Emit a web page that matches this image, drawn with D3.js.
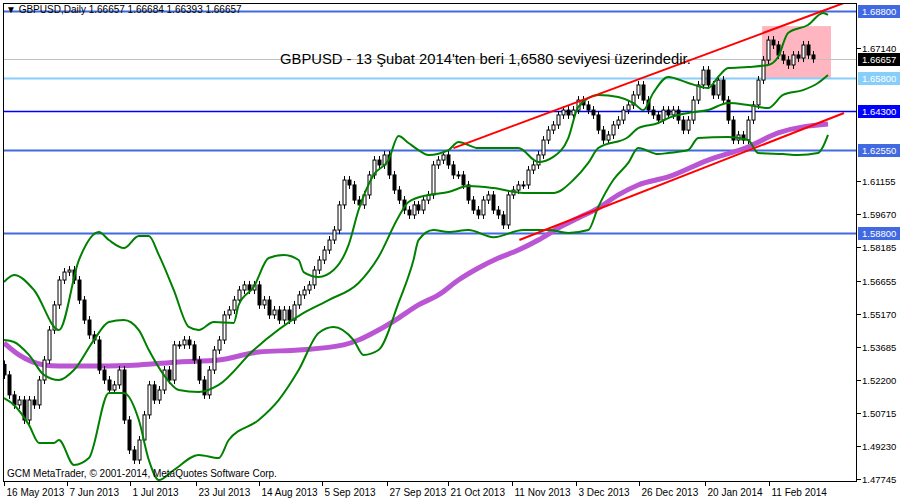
<!DOCTYPE html>
<html><head><meta charset="utf-8">
<script src="https://cdn.jsdelivr.net/npm/d3@7"></script>
<style>body{margin:0;background:#fff}text{font-family:"Liberation Sans",Arial,sans-serif}</style>
</head><body><svg id="c" width="900" height="500"></svg>
<script>
const closes=[1.5243,1.5153,1.5108,1.513,1.504,1.513,1.5108,1.522,1.531,1.5445,1.5558,1.567,1.5706,1.5715,1.567,1.558,1.549,1.5423,1.540,1.5265,1.522,1.5175,1.5198,1.5265,1.504,1.4905,1.486,1.495,1.5063,1.5198,1.513,1.5175,1.5265,1.522,1.5378,1.5378,1.540,1.5378,1.531,1.522,1.5153,1.5265,1.5355,1.540,1.5513,1.5535,1.558,1.5625,1.5648,1.5625,1.5648,1.5558,1.558,1.5513,1.5535,1.549,1.5535,1.549,1.5558,1.5603,1.5625,1.5648,1.5715,1.576,1.5805,1.585,1.5895,1.6008,1.612,1.6098,1.603,1.6008,1.6053,1.6143,1.621,1.6188,1.6233,1.6143,1.6075,1.603,1.5985,1.5963,1.6008,1.5985,1.603,1.6053,1.6188,1.621,1.6233,1.6188,1.6143,1.6143,1.6098,1.603,1.5985,1.5963,1.603,1.6053,1.5985,1.5963,1.5918,1.6053,1.6075,1.6098,1.6098,1.6165,1.6188,1.6233,1.63,1.6345,1.6368,1.6413,1.6435,1.6413,1.6435,1.648,1.6458,1.6435,1.6413,1.6345,1.63,1.6323,1.6368,1.639,1.6435,1.6458,1.6503,1.6548,1.648,1.6435,1.6413,1.639,1.6435,1.6413,1.6435,1.639,1.6345,1.639,1.648,1.6548,1.6615,1.6548,1.6503,1.657,1.648,1.639,1.63,1.6323,1.63,1.639,1.6458,1.657,1.666,1.675,1.6728,1.6683,1.666,1.6638,1.6683,1.6669,1.6728,1.6683,1.66657];
const upperIdx=[0,2,6,11,15,19,21,24,27,29,31,34,37,39,42,46,47,50,53,56,59,60,63,66,69,71,74,77,79,81,83,85,89,91,95,103,107,110,113,115,119,123,126,128,130,133,137,141,143,145,149,153,155,157,161,164,165];
const upperVal=[1.5661,1.5693,1.5625,1.5445,1.576,1.5886,1.585,1.5814,1.5868,1.5868,1.5783,1.5625,1.5459,1.5445,1.5481,1.5477,1.5558,1.5639,1.5769,1.5783,1.576,1.5706,1.5684,1.5715,1.5828,1.5985,1.6143,1.621,1.6318,1.6287,1.6255,1.6233,1.6255,1.6291,1.6264,1.6264,1.6201,1.6224,1.6309,1.6449,1.6503,1.6494,1.6467,1.6435,1.6512,1.6584,1.6557,1.6534,1.6584,1.6624,1.6629,1.6638,1.6674,1.6782,1.6818,1.6872,1.6863];
const midIdx=[0,2,5,8,11,14,18,21,24,27,29,32,35,39,43,50,60,65,71,75,79,81,85,89,93,98,104,110,114,117,119,125,127,131,133,137,141,145,149,153,156,160,163,165];
const midVal=[1.54,1.5391,1.5333,1.5243,1.522,1.5265,1.54,1.5481,1.549,1.5445,1.5355,1.5243,1.5175,1.5166,1.5198,1.5355,1.5522,1.558,1.5657,1.5774,1.5954,1.6021,1.6053,1.6066,1.6093,1.6084,1.6062,1.6062,1.612,1.6197,1.6264,1.6314,1.6354,1.6377,1.6399,1.6422,1.6435,1.6467,1.6458,1.6444,1.6503,1.6525,1.6557,1.6593];
const lowerIdx=[0,2,5,7,10,11,14,17,21,24,27,29,31,34,39,43,45,51,55,59,63,66,70,72,75,79,82,83,86,89,93,98,104,109,113,117,119,122,125,127,131,133,137,139,145,149,151,156,159,163,164,165];
const lowerVal=[1.5139,1.5108,1.5018,1.4937,1.4937,1.495,1.4838,1.4869,1.5162,1.5162,1.504,1.486,1.477,1.4815,1.4883,1.4869,1.495,1.504,1.513,1.5265,1.5432,1.5459,1.54,1.5333,1.5355,1.5567,1.576,1.585,1.5895,1.5886,1.5895,1.5863,1.5895,1.5895,1.5882,1.5895,1.5999,1.612,1.6197,1.6264,1.6237,1.6242,1.6255,1.6309,1.6314,1.63,1.6242,1.6237,1.6233,1.6242,1.627,1.6323];
const maIdx=[0,3,8,11,19,27,35,43,51,59,68,71,75,79,83,87,91,95,99,103,107,111,115,119,123,127,133,141,149,155,165];
const maVal=[1.5387,1.5333,1.5288,1.5283,1.5283,1.5288,1.5301,1.531,1.5346,1.5355,1.5378,1.54,1.5445,1.5499,1.5558,1.5603,1.567,1.5724,1.5769,1.5805,1.585,1.5904,1.5949,1.5994,1.6053,1.6098,1.6134,1.621,1.6269,1.6332,1.6372];
const trendUpper=[[90,1.6264],[168.2,1.6917]];
const trendLower=[[103.2,1.585],[168.2,1.6422]];
const boxRange=[[151.8,1.6813],[165.6,1.6579]];
const levels=[{v:1.688,c:"#4169e1",t:"1.68800"},{v:1.658,c:"#87cefa",t:"1.65800"},{v:1.643,c:"#0000ff",t:"1.64300"},{v:1.6255,c:"#4169e1",t:"1.62550"},{v:1.588,c:"#4169e1",t:"1.58800"}];
const priceTicks=[1.67140,1.61155,1.59670,1.58185,1.56655,1.55170,1.53685,1.52200,1.50715,1.49230,1.47745];
const dateLabels=["16 May 2013","7 Jun 2013","1 Jul 2013","23 Jul 2013","14 Aug 2013","5 Sep 2013","27 Sep 2013","21 Oct 2013","11 Nov 2013","3 Dec 2013","26 Dec 2013","20 Jan 2014","11 Feb 2014"];
const dateIdx=[0,12.6,25.2,38.4,51,63.6,76.6,89,101.8,114.6,127.2,140.4,153.2];
const lastPrice=1.66657;

const svg=d3.select("#c");
const L=4,R=857,T=4,B=482;
const x=d3.scaleLinear().domain([0,165]).range([4,828]);
const y=d3.scaleLinear().domain([1.47745,1.688]).range([479,11.2]);
const g=svg.append("g");
svg.append("clipPath").attr("id","pc").append("rect").attr("x",L).attr("y",T).attr("width",R-L).attr("height",B-T);
const p=g.append("g").attr("clip-path","url(#pc)");
p.append("rect").attr("x",x(boxRange[0][0])).attr("y",y(boxRange[0][1])).attr("width",x(boxRange[1][0])-x(boxRange[0][0])).attr("height",y(boxRange[1][1])-y(boxRange[0][1])).attr("fill","#ffb6c1");
levels.forEach(l=>p.append("line").attr("x1",L).attr("x2",R).attr("y1",Math.round(y(l.v))+0.5).attr("y2",Math.round(y(l.v))+0.5).attr("stroke",l.c).attr("stroke-width",l.c=="#0000ff"?1.3:2));
p.append("line").attr("x1",L).attr("x2",R).attr("y1",Math.round(y(lastPrice))+0.5).attr("y2",Math.round(y(lastPrice))+0.5).attr("stroke","#c0c0c0");
const ln=(idx,val)=>d3.line().x((d,i)=>x(idx[i])).y(d=>y(d)).curve(d3.curveMonotoneX)(val);
p.append("path").attr("d",ln(maIdx,maVal)).attr("fill","none").attr("stroke","#ba55d3").attr("stroke-width",5);
closes.forEach((c,i)=>{
  const o=i==0?1.5290:closes[i-1];
  const hi=Math.max(o,c)+0.0018,lo=Math.min(o,c)-0.0018;
  const cx=Math.round(x(i))+0.5;
  p.append("line").attr("x1",cx).attr("x2",cx).attr("y1",y(hi)).attr("y2",y(lo)).attr("stroke","#000");
  const top=y(Math.max(o,c)),h=Math.max(1,Math.abs(y(o)-y(c)));
  p.append("rect").attr("x",cx-1.5).attr("y",top).attr("width",3).attr("height",h).attr("fill",c>=o?"#fff":"#000").attr("stroke","#000").attr("stroke-width",1);
});
[[upperIdx,upperVal],[midIdx,midVal],[lowerIdx,lowerVal]].forEach(([a,b])=>p.append("path").attr("d",ln(a,b)).attr("fill","none").attr("stroke","#008000").attr("stroke-width",2));
[trendUpper,trendLower].forEach(t=>p.append("line").attr("x1",x(t[0][0])).attr("y1",y(t[0][1])).attr("x2",x(t[1][0])).attr("y2",y(t[1][1])).attr("stroke","#ff0000").attr("stroke-width",2));
g.append("rect").attr("x",L-0.5).attr("y",T-0.5).attr("width",R-L).attr("height",B-T).attr("fill","none").attr("stroke","#000");
priceTicks.forEach(v=>{const yy=Math.round(y(v))+0.5;
  g.append("line").attr("x1",R).attr("x2",R+4).attr("y1",yy).attr("y2",yy).attr("stroke","#000");
  g.append("text").attr("x",R+5).attr("y",yy+3.5).attr("font-size",9.5).text(v.toFixed(5));});
const lab=(v,bg,t)=>{const yy=Math.round(y(v));
  g.append("rect").attr("x",R+1).attr("y",yy-6).attr("width",42).attr("height",13).attr("fill",bg);
  g.append("text").attr("x",R+5).attr("y",yy+4).attr("font-size",9.5).attr("fill","#fff").text(t);};
levels.forEach(l=>lab(l.v,l.c,l.t));
lab(lastPrice,"#000","1.66657");
dateIdx.forEach((d,i)=>{const xx=Math.round(x(d))+0.5;
  g.append("line").attr("x1",xx).attr("x2",xx).attr("y1",B-0.5).attr("y2",B+4).attr("stroke","#000");
  g.append("text").attr("x",xx+2).attr("y",B+14).attr("font-size",10).text(dateLabels[i]);});
g.append("text").attr("x",6).attr("y",13).attr("font-size",10).text("▼ GBPUSD,Daily  1.66657 1.66684 1.66393 1.66657");
g.append("text").attr("x",280).attr("y",64).attr("font-size",14.8).text("GBPUSD - 13 Şubat 2014'ten beri 1,6580 seviyesi üzerindedir.");
g.append("text").attr("x",7).attr("y",477).attr("font-size",10).text("GCM MetaTrader, © 2001-2014, MetaQuotes Software Corp.");
</script></body></html>
